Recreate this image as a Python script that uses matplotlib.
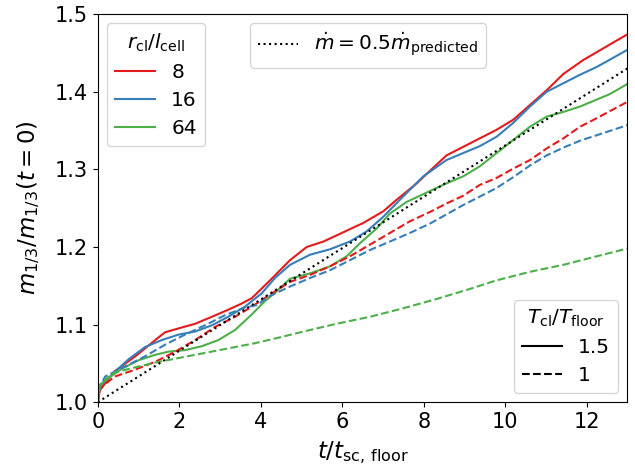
import numpy as np
import matplotlib
matplotlib.use("Agg")
import matplotlib.pyplot as plt
from matplotlib.lines import Line2D

# r_cl/l_cell = 8, 16, 64 ; T_cl/T_floor = 1.5 (solid) and 1 (dashed)
t_r8_hot = [0, 0.05, 0.15, 0.42, 0.92, 1.41, 1.65, 1.98, 2.39, 2.80, 3.20, 3.53, 3.78,
            4.23, 4.72, 5.13, 5.54, 6.03, 6.52, 7.01, 7.34, 7.83, 8.15, 8.56, 8.97,
            9.38, 9.79, 10.20, 10.61, 11.02, 11.43, 11.92, 12.41, 13.0]
m_r8_hot = [1.000, 1.015, 1.022, 1.040, 1.059, 1.080, 1.090, 1.095, 1.101, 1.110, 1.119,
            1.127, 1.134, 1.157, 1.183, 1.200, 1.207, 1.219, 1.231, 1.246, 1.261, 1.282,
            1.298, 1.318, 1.329, 1.340, 1.351, 1.364, 1.383, 1.402, 1.423, 1.441, 1.456,
            1.474]

t_r16_hot = [0, 0.04, 0.3, 0.75, 1.16, 1.57, 1.98, 2.39, 2.80, 3.20, 3.61, 4.02, 4.35,
             4.72, 5.21, 5.70, 6.19, 6.60, 7.01, 7.42, 7.99, 8.56, 8.97, 9.38, 9.79,
             10.20, 10.61, 11.02, 11.43, 11.84, 12.25, 13.0]
m_r16_hot = [1.000, 1.020, 1.033, 1.055, 1.071, 1.080, 1.087, 1.091, 1.099, 1.110, 1.123,
             1.140, 1.160, 1.177, 1.190, 1.197, 1.207, 1.220, 1.239, 1.261, 1.291, 1.312,
             1.321, 1.330, 1.342, 1.360, 1.381, 1.400, 1.411, 1.422, 1.432, 1.454]

t_r64_hot = [0, 0.04, 0.26, 0.59, 1.00, 1.41, 1.73, 2.14, 2.55, 2.96, 3.37, 3.78, 4.10,
             4.35, 4.72, 5.21, 5.70, 6.11, 6.44, 6.85, 7.17, 7.58, 8.07, 8.56, 8.97,
             9.38, 9.79, 10.20, 10.61, 11.02, 11.43, 11.84, 12.25, 12.57, 13.0]
m_r64_hot = [1.000, 1.022, 1.031, 1.043, 1.054, 1.061, 1.065, 1.067, 1.072, 1.080, 1.093,
             1.113, 1.130, 1.141, 1.159, 1.166, 1.175, 1.188, 1.205, 1.224, 1.243, 1.258,
             1.270, 1.282, 1.291, 1.304, 1.321, 1.338, 1.355, 1.368, 1.374, 1.381, 1.390,
             1.397, 1.410]

t_r8_cold = [0, 0.05, 0.42, 0.92, 1.41, 1.90, 2.39, 2.88, 3.37, 3.78, 4.27, 4.72, 5.21,
             5.70, 6.19, 6.68, 7.17, 7.66, 8.15, 8.56, 8.97, 9.38, 9.79, 10.20, 10.61,
             11.02, 11.43, 11.84, 12.25, 13.0]
m_r8_cold = [1.000, 1.018, 1.033, 1.042, 1.052, 1.065, 1.080, 1.097, 1.110, 1.123, 1.140,
             1.155, 1.164, 1.175, 1.188, 1.203, 1.218, 1.233, 1.245, 1.256, 1.266, 1.280,
             1.289, 1.301, 1.312, 1.327, 1.340, 1.355, 1.366, 1.387]

t_r16_cold = [0, 0.05, 0.18, 0.67, 1.16, 1.65, 2.14, 2.63, 3.12, 3.61, 3.9, 4.23, 4.72,
              5.21, 5.70, 6.19, 6.68, 7.17, 7.66, 8.15, 8.56, 8.97, 9.38, 9.79, 10.20,
              10.61, 11.02, 11.43, 11.84, 12.25, 13.0]
m_r16_cold = [1.000, 1.020, 1.033, 1.046, 1.059, 1.074, 1.087, 1.099, 1.112, 1.122, 1.125,
              1.137, 1.149, 1.160, 1.170, 1.183, 1.196, 1.207, 1.218, 1.230, 1.242, 1.254,
              1.265, 1.276, 1.290, 1.305, 1.318, 1.328, 1.337, 1.344, 1.357]

t_r64_cold = [0, 0.05, 0.2, 0.42, 0.92, 1.41, 1.90, 2.39, 2.88, 3.37, 3.86, 4.35, 5.05,
              5.86, 6.68, 7.50, 8.32, 9.14, 9.79, 10.61, 11.43, 12.25, 13.0]
m_r64_cold = [1.000, 1.020, 1.030, 1.038, 1.045, 1.051, 1.056, 1.061, 1.066, 1.071, 1.076,
              1.082, 1.091, 1.101, 1.110, 1.121, 1.133, 1.146, 1.157, 1.168, 1.177, 1.188,
              1.198]

# 0.5 x predicted growth (straight line)
t_pred = [0, 13]
m_pred = [1.0, 1.43]

res_labels = ['8', '16', '64']
temp_labels = ['1.5', '1']
colors = ['#e41a1c', '#377eb8', '#4daf4a']

plt.rcParams['font.size'] = 15

fig = plt.figure(figsize=(6.35, 4.72), dpi=100)
ax = fig.add_axes([0.154, 0.148, 0.834, 0.822])

hot = [(t_r8_hot, m_r8_hot), (t_r16_hot, m_r16_hot), (t_r64_hot, m_r64_hot)]
cold = [(t_r8_cold, m_r8_cold), (t_r16_cold, m_r16_cold), (t_r64_cold, m_r64_cold)]

for (t, m), c in zip(hot, colors):
    ax.plot(t, m, color=c, lw=1.5, ls='-')
for (t, m), c in zip(cold, colors):
    ax.plot(t, m, color=c, lw=1.5, ls='--')
ax.plot(t_pred, m_pred, color='k', lw=1.5, ls=':')

ax.set_xlim(0, 13)
ax.set_ylim(1.0, 1.5)
ax.set_xticks([0, 2, 4, 6, 8, 10, 12])
ax.set_yticks([1.0, 1.1, 1.2, 1.3, 1.4, 1.5])
ax.tick_params(labelsize=15)
ax.set_xlabel(r'$t/t_\mathrm{sc,\,floor}$', fontsize=16.5, labelpad=5)
ax.set_ylabel(r'$m_{1/3}/m_{1/3}(t=0)$', fontsize=16.5, labelpad=9)

lfs = 14.5
h_res = [Line2D([], [], color=c, lw=1.5) for c in colors]
leg1 = ax.legend(h_res, res_labels, title=r'$r_\mathrm{cl}/l_\mathrm{cell}$',
                 loc='upper left', fontsize=lfs, title_fontsize=lfs,
                 labelspacing=0.45, borderaxespad=0.45)
ax.add_artist(leg1)

h_pred = [Line2D([], [], color='k', lw=1.5, ls=':')]
leg2 = ax.legend(h_pred, [r'$\dot{m}=0.5\dot{m}_\mathrm{predicted}$'],
                 loc='upper left', bbox_to_anchor=(0.27, 1.0), fontsize=lfs,
                 borderaxespad=0.45)
ax.add_artist(leg2)

h_temp = [Line2D([], [], color='k', lw=1.5, ls='-'),
          Line2D([], [], color='k', lw=1.5, ls='--')]
ax.legend(h_temp, temp_labels, title=r'$T_\mathrm{cl}/T_\mathrm{floor}$',
          loc='lower right', fontsize=lfs, title_fontsize=lfs,
          labelspacing=0.45, borderaxespad=0.45)

fig.savefig('out.png', dpi=100)
